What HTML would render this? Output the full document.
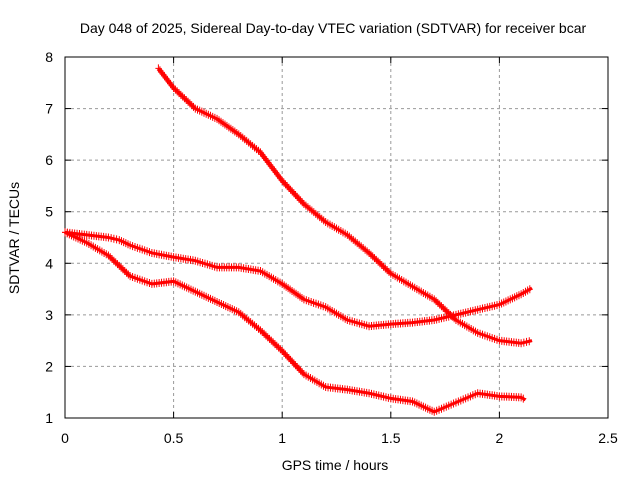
<!DOCTYPE html>
<html><head><meta charset="utf-8"><style>
body{margin:0;background:#fff}
svg{display:block;font-family:"Liberation Sans",sans-serif}
</style></head><body>
<svg id="c" width="640" height="480"></svg>
<script>
const xTicks=[0,0.5,1,1.5,2,2.5];
const xTickLabels=["0","0.5","1","1.5","2","2.5"];
const yTicks=[1,2,3,4,5,6,7,8];
const yTickLabels=["1","2","3","4","5","6","7","8"];
const aX=[0.43,0.5,0.6,0.7,0.8,0.9,1.0,1.1,1.2,1.3,1.4,1.5,1.6,1.7,1.8,1.9,2.0,2.1,2.15];
const aY=[7.78,7.4,7.0,6.8,6.5,6.15,5.6,5.15,4.8,4.55,4.2,3.8,3.55,3.3,2.9,2.65,2.5,2.45,2.5];
const bX=[0,0.1,0.2,0.25,0.3,0.4,0.5,0.6,0.7,0.8,0.9,1.0,1.1,1.2,1.3,1.4,1.5,1.6,1.7,1.8,1.9,2.0,2.1,2.15];
const bY=[4.6,4.55,4.5,4.45,4.35,4.2,4.12,4.05,3.92,3.92,3.85,3.6,3.3,3.15,2.9,2.78,2.82,2.85,2.9,3.0,3.1,3.2,3.4,3.52];
const cX=[0,0.1,0.2,0.3,0.4,0.5,0.6,0.7,0.8,0.9,1.0,1.1,1.2,1.3,1.4,1.5,1.6,1.7,1.8,1.9,2.0,2.1,2.12];
const cY=[4.6,4.4,4.15,3.75,3.6,3.65,3.45,3.25,3.05,2.7,2.3,1.85,1.6,1.55,1.48,1.38,1.32,1.12,1.3,1.48,1.42,1.4,1.35];
const L=65,R=608,T=57,B=418;
const sx=v=>L+(v-0)/2.5*(R-L);
const sy=v=>B-(v-1)/7*(B-T);
const svg=document.getElementById('c');
const NS='http://www.w3.org/2000/svg';
function mk(tag,at,txt){const e=document.createElementNS(NS,tag);for(const k in at)e.setAttribute(k,at[k]);if(txt!==undefined)e.textContent=txt;svg.appendChild(e);return e;}
let e;
e=mk('text',{x:333,y:33,'text-anchor':'middle','font-size':14},'Day 048 of 2025, Sidereal Day-to-day VTEC variation (SDTVAR) for receiver bcar');


xTicks.forEach((t,i)=>{
 if(i>0&&i<xTicks.length-1){e=mk('line',{x1:sx(t),x2:sx(t),y1:T,y2:B,stroke:'#999','stroke-dasharray':'3,3'});
 
 }
 e=mk('text',{x:sx(t),y:B+25,'text-anchor':'middle','font-size':14},xTickLabels[i]);
 
 
 mk('line',{x1:sx(t),x2:sx(t),y1:B,y2:B-6,stroke:'#000'});
 mk('line',{x1:sx(t),x2:sx(t),y1:T,y2:T+6,stroke:'#000'});
});
yTicks.forEach((t,i)=>{
 if(i>0&&i<yTicks.length-1){e=mk('line',{x1:L,x2:R,y1:sy(t),y2:sy(t),stroke:'#999','stroke-dasharray':'3,3'});
 
 }
 e=mk('text',{x:L-12,y:sy(t)+5,'text-anchor':'end','font-size':14},yTickLabels[i]);
 
 
 mk('line',{x1:L,x2:L+6,y1:sy(t),y2:sy(t),stroke:'#000'});
 mk('line',{x1:R,x2:R-6,y1:sy(t),y2:sy(t),stroke:'#000'});
});
e=mk('rect',{x:L,y:T,width:R-L,height:B-T,fill:'none',stroke:'#000'});


e=mk('text',{x:335,y:470,'text-anchor':'middle','font-size':14},'GPS time / hours');


e=mk('text',{x:19,y:238,'text-anchor':'middle','font-size':14,transform:'rotate(-90 19 238)'},'SDTVAR / TECUs');


function series(xs,ys,name){
 const g=document.createElementNS(NS,'g');svg.appendChild(g);
 
 
 const pts=xs.map((x,i)=>sx(x)+','+sy(ys[i])).join(' ');
 const pl=document.createElementNS(NS,'polyline');
 pl.setAttribute('points',pts);pl.setAttribute('fill','none');pl.setAttribute('stroke','#f00');pl.setAttribute('stroke-width','3');
 g.appendChild(pl);
 let d='';
 for(let i=0;i<xs.length-1;i++){
  const x0=sx(xs[i]),y0=sy(ys[i]),x1=sx(xs[i+1]),y1=sy(ys[i+1]);
  const n=Math.max(1,Math.round(Math.hypot(x1-x0,y1-y0)/2.5));
  for(let k=0;k<n;k++){const px=x0+(x1-x0)*k/n,py=y0+(y1-y0)*k/n;d+=`M${px-3},${py}h6M${px},${py-4}v8`;}
 }
 const p=document.createElementNS(NS,'path');p.setAttribute('d',d);p.setAttribute('stroke','#f00');p.setAttribute('stroke-width','1');
 g.appendChild(p);
}
series(aX,aY,'series-upper');
series(bX,bY,'series-middle');
series(cX,cY,'series-lower');
</script>
</body></html>
